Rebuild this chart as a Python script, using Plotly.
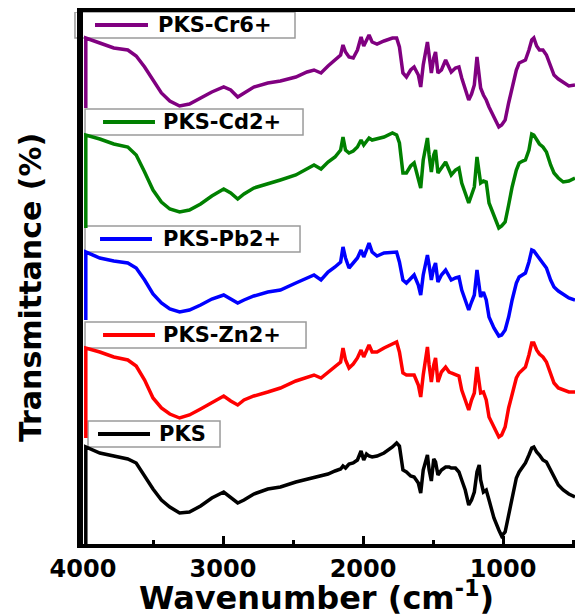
import plotly.graph_objects as go

# Wavenumber grid (cm^-1); first point repeated = drop line to band baseline
wavenumber = [
    3980, 3980, 3880, 3780, 3680, 3620, 3560, 3500, 3440, 3380,
    3310, 3240, 3160, 3080, 2995, 2945, 2895, 2850, 2780, 2680,
    2590, 2480, 2400, 2350, 2300, 2250, 2200, 2160, 2143, 2125,
    2100, 2070, 2040, 2014, 1995, 1975, 1957, 1935, 1900, 1850,
    1790, 1760, 1740, 1715, 1690, 1660, 1635, 1605, 1588, 1570,
    1540, 1528, 1512, 1495, 1482, 1465, 1440, 1410, 1385, 1370,
    1340, 1315, 1295, 1270, 1245, 1225, 1205, 1186, 1170, 1160,
    1140, 1120, 1100, 1065, 1030, 1010, 985, 960, 935, 905,
    885, 860, 840, 815, 795, 780, 760, 740, 715, 690,
    660, 636, 605, 570, 530, 486,
]

series_names = ["PKS", "PKS-Zn2+", "PKS-Pb2+", "PKS-Cd2+", "PKS-Cr6+"]
series_colors = ["#000000", "#FF0000", "#0000FF", "#008000", "#800080"]
series_offsets = [0, 106, 224, 316, 436]   # vertical stacking offsets (a.u.)

t_pks = [
    0, 97, 91, 88, 85, 81, 68, 55, 44, 37,
    31, 32, 38, 46, 52, 47, 41, 44, 50, 55,
    57, 62, 65, 66, 68, 70, 73, 75, 78, 76,
    80, 81, 84, 93, 84, 90, 88, 87, 88, 91,
    97, 101, 98, 74, 72, 68, 67, 61, 51, 74,
    89, 74, 63, 85, 82, 69, 74, 77, 77, 76,
    76, 72, 64, 54, 39, 44, 52, 72, 79, 64,
    52, 54, 44, 26, 14, 8, 12, 29, 47, 66,
    72, 77, 81, 89, 96, 97, 92, 89, 84, 82,
    74, 66, 59, 54, 50, 47,
]
t_zn = [
    0, 90, 86, 81, 78, 72, 58, 40, 30, 24,
    20, 23, 29, 35, 42, 37, 33, 38, 42, 46,
    50, 57, 61, 63, 60, 66, 71, 76, 90, 78,
    70, 74, 80, 88, 81, 88, 93, 86, 86, 90,
    94, 96, 86, 65, 63, 63, 63, 53, 41, 63,
    91, 73, 56, 73, 80, 56, 66, 71, 66, 65,
    63, 62, 48, 38, 28, 38, 45, 71, 53, 45,
    46, 38, 21, 10, 1, 3, 11, 30, 45, 60,
    65, 68, 71, 83, 95, 95, 88, 84, 81, 76,
    63, 55, 50, 48, 46, 46,
]
t_pb = [
    0, 68, 62, 59, 57, 52, 40, 26, 17, 11,
    8, 10, 15, 21, 25, 21, 17, 20, 24, 28,
    30, 37, 42, 45, 40, 48, 53, 58, 73, 62,
    52, 57, 62, 70, 63, 70, 77, 68, 64, 67,
    68, 68, 58, 40, 37, 42, 45, 35, 25, 45,
    65, 55, 40, 52, 57, 38, 45, 50, 44, 40,
    42, 43, 30, 20, 10, 18, 25, 50, 35, 23,
    28, 20, 3, -8, -16, -15, -10, 3, 20, 37,
    43, 45, 47, 58, 70, 69, 65, 62, 57, 52,
    40, 33, 29, 26, 22, 20,
]
t_cd = [
    0, 93, 89, 84, 81, 73, 56, 38, 26, 19,
    16, 18, 24, 32, 39, 35, 29, 34, 40, 44,
    48, 53, 59, 63, 59, 66, 71, 78, 91, 78,
    75, 77, 81, 88, 83, 87, 90, 88, 89, 91,
    95, 93, 85, 55, 55, 62, 65, 50, 40, 68,
    90, 73, 56, 73, 78, 55, 60, 66, 58, 53,
    58, 60, 45, 36, 25, 33, 41, 71, 53, 45,
    47, 46, 25, 13, 0, 2, 6, 23, 41, 58,
    65, 67, 68, 78, 94, 93, 88, 84, 81, 76,
    63, 55, 50, 46, 47, 50,
]
t_cr = [
    0, 70, 65, 60, 58, 52, 41, 28, 15, 7,
    2, 4, 10, 16, 21, 18, 11, 15, 21, 25,
    27, 31, 36, 38, 35, 42, 48, 53, 63, 56,
    51, 50, 58, 71, 62, 68, 73, 66, 64, 67,
    70, 70, 61, 35, 31, 38, 41, 33, 21, 43,
    66, 53, 35, 50, 56, 35, 38, 48, 40, 36,
    40, 41, 30, 20, 8, 14, 23, 51, 33, 20,
    13, 8, 1, -9, -19, -17, -12, 5, 21, 38,
    45, 47, 48, 58, 68, 70, 62, 58, 58, 53,
    41, 33, 29, 26, 22, 23,
]
series_values = [t_pks, t_zn, t_pb, t_cd, t_cr]

x_tick_vals = [4000, 3000, 2000, 1000]
x_tick_text = ["4000", "3000", "2000", "1000"]

# legend box placement (paper x) per series
legend_box_x = [(0.0102, 0.2785), (0.0041, 0.4533), (0.0041, 0.4411), (0.0041, 0.4472), (-0.0163, 0.4309)]
legend_line_x = [(0.0305, 0.1362), (0.0407, 0.1463), (0.0346, 0.1402), (0.0407, 0.1463), (0.0244, 0.1321)]
legend_text_x = [0.1504, 0.1585, 0.1585, 0.1585, 0.1484]
BOX_H = 26

FONT = "DejaVu Sans"

fig = go.Figure()
shapes = []
annotations = []
for name, color, off, vals, bx, lx, tx in zip(series_names, series_colors, series_offsets,
                                               series_values, legend_box_x, legend_line_x, legend_text_x):
    fig.add_trace(go.Scatter(
        x=wavenumber, y=[off + v for v in vals], mode="lines", name=name,
        line=dict(color=color, width=3.5), hoverinfo="skip"))
    y0 = off + vals[1]
    y1 = y0 + BOX_H
    shapes.append(dict(type="rect", xref="paper", yref="y", x0=bx[0], x1=bx[1], y0=y0, y1=y1,
                       line=dict(color="#9a9a9a", width=1.5), fillcolor="white", layer="below"))
    ym = (y0 + y1) / 2
    shapes.append(dict(type="line", xref="paper", yref="y", x0=lx[0], x1=lx[1], y0=ym, y1=ym,
                       line=dict(color=color, width=4), layer="below"))
    annotations.append(dict(xref="paper", yref="y", x=tx, y=ym, xanchor="left", yanchor="middle",
                            text=name, showarrow=False,
                            font=dict(family=FONT, size=21, color="black", weight="bold")))

annotations.append(dict(xref="paper", yref="paper", x=0.4756, y=-0.098, xanchor="center", yanchor="middle",
                        text="Wavenumber (cm<sup>-1</sup>)", showarrow=False,
                        font=dict(family=FONT, size=32, color="black", weight="bold")))
annotations.append(dict(xref="paper", yref="paper", x=-0.1077, y=0.481, xanchor="center", yanchor="middle",
                        text="Transmittance (%)", textangle=-90, showarrow=False,
                        font=dict(family=FONT, size=30, color="black", weight="bold")))

fig.update_layout(
    width=575, height=615,
    margin=dict(l=83, r=0, t=12, b=71),
    paper_bgcolor="white", plot_bgcolor="rgba(0,0,0,0)",
    showlegend=False,
    shapes=shapes, annotations=annotations,
    xaxis=dict(range=[4000, 486], showgrid=False, zeroline=False,
               showline=True, linecolor="black", linewidth=4, mirror=True,
               ticks="inside", ticklen=8, tickwidth=3, tickcolor="black",
               tickvals=x_tick_vals, ticktext=x_tick_text,
               tickfont=dict(family=FONT, size=24, color="black", weight="bold"),
               minor=dict(dtick=500, tick0=0, ticks="inside", ticklen=4, tickwidth=3, tickcolor="black")),
    yaxis=dict(range=[0, 532], showgrid=False, zeroline=False, showticklabels=False,
               showline=True, linecolor="black", linewidth=6, ticks=""),
)

fig.write_html("out.html", config={"displayModeBar": False},
               post_script="document.body.style.margin='0';document.body.style.overflow='hidden';")
